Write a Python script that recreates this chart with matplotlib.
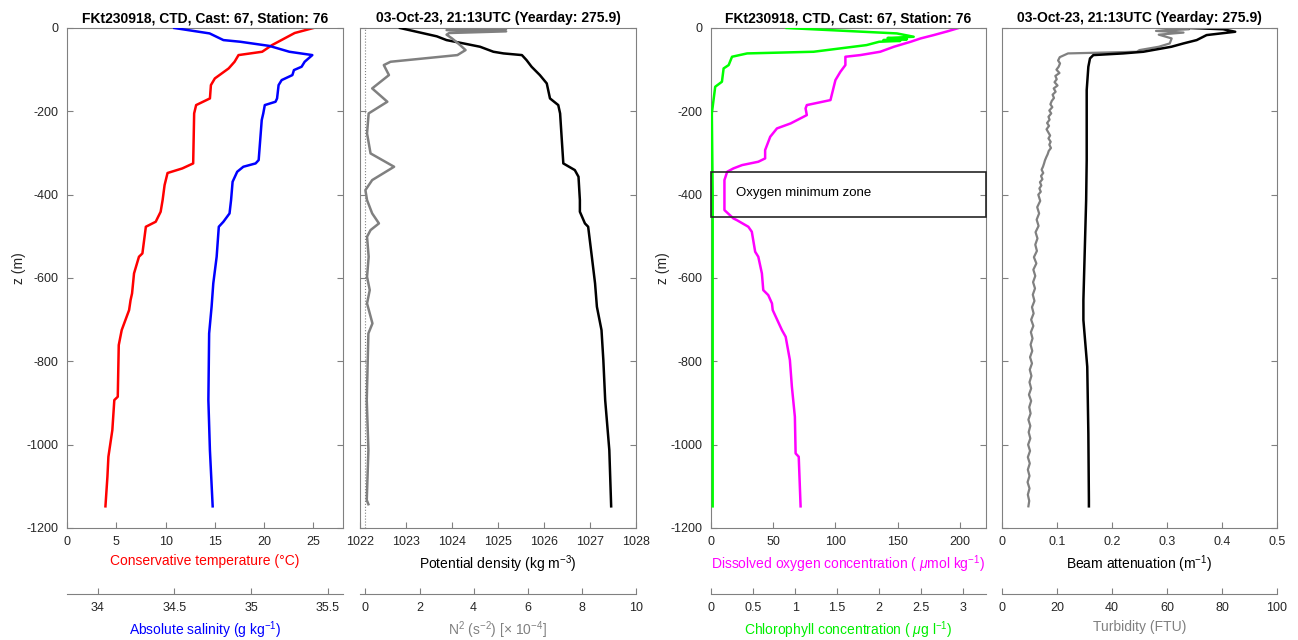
import matplotlib
matplotlib.use('Agg')
import matplotlib.pyplot as plt
from matplotlib import ticker, transforms
from matplotlib.patches import Rectangle

plt.rcParams['font.family'] = ['Liberation Sans', 'DejaVu Sans']
plt.rcParams['mathtext.fontset'] = 'custom'
plt.rcParams['mathtext.rm'] = 'Liberation Sans'
plt.rcParams['mathtext.it'] = 'Liberation Sans:italic'
plt.rcParams['axes.unicode_minus'] = False

### data (z in m)
temp_z = [0, -12, -41, -57, -65, -81, -97, -121, -137, -169, -185, -205, -325, -337, -348, -377,
          -413, -441, -465, -477, -541, -549, -589, -637, -653, -677, -725, -761, -885, -893,
          -965, -1029, -1077, -1148]
temp = [25.0, 23.1, 20.8, 19.8, 17.4, 17.0, 16.4, 15.0, 14.6, 14.5, 13.1, 12.9, 12.8, 11.7, 10.2, 9.9,
        9.7, 9.5, 9.0, 8.0, 7.65, 7.3, 6.8, 6.6, 6.45, 6.3, 5.55, 5.25, 5.15, 4.8,
        4.6, 4.2, 4.1, 3.9]

sal_z = [0, -13, -29, -33, -43, -57, -65, -81, -93, -101, -113, -125, -137, -169, -177, -185, -205,
         -221, -317, -325, -333, -345, -369, -413, -445, -465, -477, -549, -613, -669, -733, -893,
         -1013, -1148]
sal = [34.50, 34.73, 34.82, 34.93, 35.12, 35.25, 35.40, 35.35, 35.33, 35.28, 35.27, 35.20, 35.18,
       35.17, 35.16, 35.09, 35.08, 35.07, 35.05, 35.03, 34.95, 34.91, 34.88, 34.87, 34.86, 34.82,
       34.79, 34.776, 34.754, 34.743, 34.727, 34.722, 34.732, 34.75]

dens_z = [0, -20, -29, -37, -45, -57, -61, -65, -77, -93, -113, -133, -169, -185, -205, -325, -341,
          -357, -413, -441, -469, -477, -549, -613, -669, -725, -797, -893, -1013, -1148]
dens = [1022.87, 1023.67, 1023.88, 1024.25, 1024.61, 1024.90, 1025.12, 1025.52, 1025.62, 1025.73,
        1025.91, 1026.06, 1026.13, 1026.31, 1026.35, 1026.42, 1026.67, 1026.75, 1026.78, 1026.78,
        1026.89, 1026.96, 1027.04, 1027.11, 1027.15, 1027.25, 1027.29, 1027.33, 1027.42, 1027.46]

n2_z = [0, -2, -5, -8, -12, -16, -25, -41, -53, -65, -81, -89, -113, -145, -177, -205, -253, -301,
        -333, -365, -389, -413, -445, -469, -485, -501, -549, -597, -629, -661, -709, -733, -893,
        -1013, -1133, -1143]
n2 = [3.2, 5.2, 3.0, 5.2, 3.1, 3.0, 3.2, 3.5, 3.7, 3.4, 0.93, 0.68, 0.87, 0.25, 0.81, 0.12, 0.06,
      0.19, 1.06, 0.25, 0.0, 0.06, 0.25, 0.5, 0.19, 0.06, 0.12, 0.06, 0.16, 0.06, 0.26, 0.11, 0.05,
      0.11, 0.05, 0.11]

oxy_z = [0, -8, -17, -25, -33, -45, -57, -65, -69, -89, -105, -125, -161, -173, -185, -193, -209,
         -229, -241, -261, -293, -313, -321, -329, -337, -345, -365, -437, -457, -461, -477, -489,
         -537, -549, -589, -629, -641, -661, -677, -725, -741, -797, -861, -933, -1021, -1029, -1148]
oxy = [199, 190, 179, 168.5, 160.5, 147, 136, 120, 108, 108, 104, 100, 97, 96, 77, 76, 77,
       64, 53, 47.6, 43.5, 43.5, 38, 25, 18, 13, 10.8, 10.8, 18, 20.7, 30, 32.8,
       35.5, 38, 40.9, 42, 46, 49, 49.6, 57, 60, 63.4, 65, 67.4, 68, 70.5, 72]

chl_z = [0, -13, -21, -24, -27, -29, -31, -33, -41, -57, -61, -69, -89, -97, -129, -141, -173, -205,
         -400, -700, -1148]
chl = [0.90, 2.21, 2.41, 2.10, 2.33, 2.05, 2.25, 2.00, 1.85, 1.22, 0.43, 0.25, 0.21, 0.15, 0.13,
       0.05, 0.03, 0.01, 0.02, 0.02, 0.02]

beam_z = [0, -3, -9, -17, -29, -37, -45, -57, -61, -65, -73, -93, -149, -317, -413, -653, -701,
          -813, -973, -1133, -1148]
beam = [0.342, 0.402, 0.424, 0.372, 0.354, 0.33, 0.308, 0.257, 0.22, 0.166, 0.16, 0.157, 0.154,
        0.154, 0.153, 0.148, 0.148, 0.155, 0.157, 0.158, 0.158]

turb_z = [0, -3, -7, -11, -16, -25, -37, -45, -53, -57, -61,
          -70, -78, -85, -93, -100, -108, -115, -123, -130, -138, -145, -153, -160, -168, -175,
          -183, -190, -198, -205, -213, -220, -228, -235, -243, -250, -258, -265, -273, -280,
          -288, -295, -303, -310, -318, -325, -333, -340, -348, -355, -363, -370, -378, -385,
          -393, -400, -415, -430, -445, -460, -475, -490, -505, -520, -535, -550, -565, -580,
          -595, -610, -625, -640, -655, -670, -685, -700, -715, -730, -745, -760, -775, -790,
          -805, -820, -835, -850, -865, -880, -895, -910, -925, -940, -955, -970, -985, -1000,
          -1015, -1030, -1045, -1060, -1075, -1090, -1105, -1120, -1135, -1148]
turb = [58, 68, 56, 66, 57, 61.7, 61, 57, 50, 49, 24,
        21.0, 20.4, 21.1, 20.6, 19.8, 20.9, 19.4, 19.9, 19.1, 20.2, 18.8, 19.5, 18.4, 18.9, 18.1,
        17.6, 18.3, 17.2, 17.9, 16.9, 17.3, 16.4, 17.1, 16.2, 16.8, 17.5, 16.9, 17.7, 17.2,
        17.8, 17.0, 16.6, 16.1, 15.6, 15.3, 14.9, 14.4, 15.0, 14.2, 14.7, 13.8, 14.3, 13.6,
        14.1, 13.2, 13.9, 12.8, 13.5, 12.6, 13.3, 12.2, 12.9, 12.1, 12.7, 11.6, 12.5, 11.4,
        12.1, 11.3, 12.0, 11.2, 11.8, 10.9, 11.5, 10.6, 11.4, 10.5, 11.1, 10.4, 11.0, 10.2,
        10.9, 10.1, 10.7, 10.0, 10.6, 9.8, 10.6, 9.9, 10.4, 9.6, 10.3, 9.7, 10.3, 9.5,
        10.2, 9.4, 10.1, 9.4, 10.0, 9.3, 10.0, 9.4, 9.9, 9.6]

title_left = "FKt230918, CTD, Cast: 67, Station: 76"
title_right = "03-Oct-23, 21:13UTC (Yearday: 275.9)"
z_ticks = [0, -200, -400, -600, -800, -1000, -1200]

AX_COL = '#808080'
TXT_COL = '#262626'
GREY = '#808080'
LW = 1.8


def style_axes(ax, show_y):
    ax.set_ylim(-1200, 0)
    ax.set_yticks(z_ticks)
    ax.tick_params(direction='in', top=True, right=True, length=4, width=0.8,
                   color=AX_COL, labelcolor=TXT_COL, labelsize=9, pad=6)
    ax.xaxis.set_major_formatter(ticker.FormatStrFormatter('%g'))
    for s in ax.spines.values():
        s.set_color(AX_COL)
    if show_y:
        ax.set_ylabel('z (m)', fontsize=10, color=TXT_COL)
    else:
        ax.tick_params(labelleft=False)


def lower_axis(ax, lim, ticks, label, color):
    ax2 = ax.twiny()
    ax2.set_xlim(lim)
    ax2.set_xticks(ticks)
    ax2.xaxis.set_ticks_position('bottom')
    ax2.xaxis.set_label_position('bottom')
    ax2.spines['bottom'].set_position(('outward', 47.5))
    ax2.spines['bottom'].set_color(AX_COL)
    for side in ['top', 'left', 'right']:
        ax2.spines[side].set_visible(False)
    ax2.tick_params(axis='x', direction='in', length=4, width=0.8, color=AX_COL,
                    labelcolor=TXT_COL, labelsize=9, pad=6)
    ax2.xaxis.set_major_formatter(ticker.FormatStrFormatter('%g'))
    ax2.set_xlabel(label, fontsize=10, color=color, labelpad=4)
    return ax2


fig = plt.figure(figsize=(12.98, 6.40), dpi=100)
W, H = 1298., 640.
bot, hgt = 1 - 528 / H, 500 / H

# panel 1: temperature + salinity
ax1 = fig.add_axes([67 / W, bot, 276 / W, hgt])
style_axes(ax1, True)
ax1.set_xlim(0, 28)
ax1.set_xticks([0, 5, 10, 15, 20, 25])
ax1.plot(temp, temp_z, color='r', lw=LW)
ax1.set_xlabel('Conservative temperature (°C)', fontsize=10, color='r', labelpad=4)
ax1.set_title(title_left, fontsize=10, fontweight='bold', pad=4)
ax1.yaxis.set_label_coords(-0.15, 0.52)
ax1b = lower_axis(ax1, (33.8, 35.6), [34, 34.5, 35, 35.5], 'Absolute salinity (g kg$^{-1}$)', 'b')
ax1b.plot(sal, sal_z, color='b', lw=LW)

# panel 2: density + N2
ax2 = fig.add_axes([360 / W, bot, 276 / W, hgt])
style_axes(ax2, False)
ax2.set_xlim(1022, 1028)
ax2.set_xticks(range(1022, 1029))
ax2.plot(dens, dens_z, color='k', lw=LW, zorder=3)
ax2.set_xlabel('Potential density (kg m$^{-3}$)', fontsize=10, color='k', labelpad=4)
ax2.set_title(title_right, fontsize=10, fontweight='bold', pad=4)
ax2b = lower_axis(ax2, (-0.2, 10), [0, 2, 4, 6, 8, 10], 'N$^2$ (s$^{-2}$) [× 10$^{-4}$]', GREY)
ax2b.axvline(0, color=GREY, ls=':', lw=0.8)
ax2b.plot(n2, n2_z, color=GREY, lw=LW)

# panel 3: oxygen + chlorophyll
ax3 = fig.add_axes([711 / W, bot, 275 / W, hgt])
style_axes(ax3, True)
ax3.set_xlim(0, 221)
ax3.set_xticks([0, 50, 100, 150, 200])
ax3.plot(oxy, oxy_z, color='#ff00ff', lw=LW)
ax3.set_xlabel('Dissolved oxygen concentration ( $\\mu$mol kg$^{-1}$)', fontsize=10,
               color='#ff00ff', labelpad=4)
ax3.set_title(title_left, fontsize=10, fontweight='bold', pad=4)
ax3.yaxis.set_label_coords(-0.15, 0.52)
ax3b = lower_axis(ax3, (0, 3.27), [0, 0.5, 1, 1.5, 2, 2.5, 3],
                  'Chlorophyll concentration ( $\\mu$g l$^{-1}$)', '#00ee00')
ax3b.plot(chl, chl_z, color='#00ff00', lw=LW)
trans = transforms.blended_transform_factory(ax3.transAxes, ax3.transData)
ax3b.add_patch(Rectangle((0, -453), 1, 108, transform=trans, fill=False,
                         ec=TXT_COL, lw=1.2, clip_on=False, zorder=5))
ax3.text(20, -397, 'Oxygen minimum zone', fontsize=9.5, va='center', color='k')

# panel 4: beam attenuation + turbidity
ax4 = fig.add_axes([1002 / W, bot, 275 / W, hgt])
style_axes(ax4, False)
ax4.set_xlim(0, 0.5)
ax4.set_xticks([0, 0.1, 0.2, 0.3, 0.4, 0.5])
ax4.set_xlabel('Beam attenuation (m$^{-1}$)', fontsize=10, color='k', labelpad=4)
ax4.set_title(title_right, fontsize=10, fontweight='bold', pad=4)
ax4b = lower_axis(ax4, (0, 100), [0, 20, 40, 60, 80, 100], 'Turbidity (FTU)', GREY)
ax4b.plot(turb, turb_z, color=GREY, lw=1.6)
ax4.set_zorder(ax4b.get_zorder() + 1)
ax4.patch.set_visible(False)
ax4.plot(beam, beam_z, color='k', lw=LW)

fig.savefig('out.png', dpi=100)
